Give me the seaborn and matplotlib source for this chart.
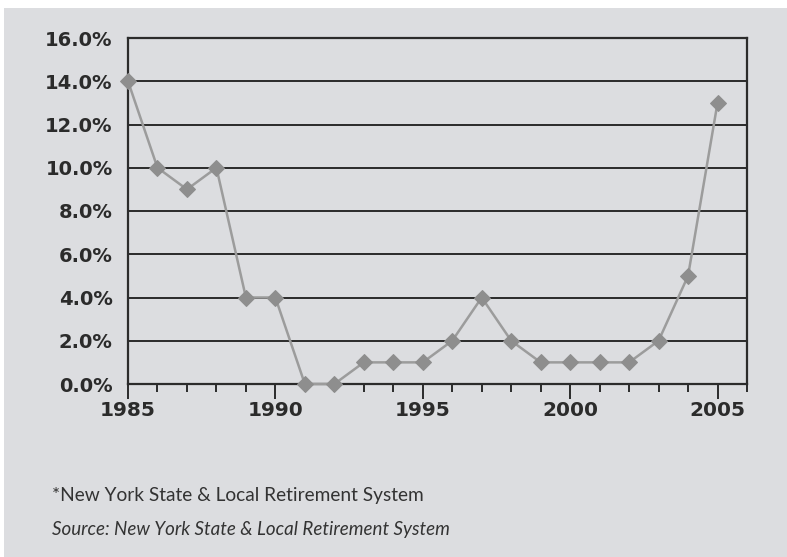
import pandas as pd
import matplotlib.pyplot as plt
import matplotlib.patches as mpatches
from matplotlib.ticker import MultipleLocator, FuncFormatter
import seaborn as sns

# Values
years = list(range(1985, 2006))
rates = [14, 10, 9, 10, 4, 4, 0, 0, 1, 1, 1, 2, 4, 2, 1, 1, 1, 1, 2, 5, 13]
y_ticks = [0, 2, 4, 6, 8, 10, 12, 14, 16]
x_ticks = [1985, 1990, 1995, 2000, 2005]
note = "*New York State & Local Retirement System"
source = "Source: New York State & Local Retirement System"

data = pd.DataFrame({"Year": years, "Rate": rates})

sns.set_style("white")
plt.rcParams["font.family"] = ["Lato", "DejaVu Sans"]

bg = "#dcdde0"
dark = "#2b2b2b"

fig = plt.figure(figsize=(7.87, 5.57), dpi=100, facecolor="white")
# gray panel behind everything (white strip at top and left)
fig.patches.append(mpatches.Rectangle((4 / 787, 0), 1, 1 - 8 / 557,
                                      transform=fig.transFigure,
                                      facecolor=bg, edgecolor="none", zorder=-10))

ax = fig.add_axes([128 / 787, 1 - 384 / 557, (747 - 128) / 787, (384 - 38) / 557])
ax.set_facecolor(bg)

sns.lineplot(x="Year", y="Rate", data=data, ax=ax, color="#9c9c9c",
             linewidth=1.8, marker="D", markersize=8,
             markerfacecolor="#8e8e8e", markeredgecolor="#8e8e8e",
             zorder=5, clip_on=False)

ax.set_xlim(1985, 2006)
ax.set_ylim(0, 16)
ax.set_yticks(y_ticks)
ax.yaxis.set_major_formatter(FuncFormatter(lambda v, p: f"{v:.1f}%"))
ax.set_xticks(x_ticks)
ax.xaxis.set_minor_locator(MultipleLocator(1))

for y in y_ticks[1:-1]:
    ax.axhline(y, color=dark, linewidth=1.4, zorder=1)

for s in ax.spines.values():
    s.set_color(dark)
    s.set_linewidth(1.6)

ax.tick_params(axis="y", which="major", direction="out", length=6, width=1.4,
               color=dark, pad=5, labelcolor=dark)
ax.tick_params(axis="x", which="major", direction="out", length=11, width=1.4,
               color=dark, pad=1, labelcolor=dark, bottom=True)
ax.tick_params(axis="x", which="minor", direction="out", length=6, width=1.4,
               color=dark, bottom=True)
for lab in ax.get_yticklabels():
    lab.set_fontfamily("DejaVu Sans")
    lab.set_fontweight("bold")
    lab.set_fontsize(14)
for lab in ax.get_xticklabels():
    lab.set_fontfamily("DejaVu Sans")
    lab.set_fontweight("bold")
    lab.set_fontsize(14.5)

ax.set_xlabel("")
ax.set_ylabel("")

fig.text(52 / 787, 1 - 495 / 557, note, fontsize=13.8, color="#333333",
         va="center", ha="left")
fig.text(52 / 787, 1 - 530 / 557, source, fontsize=13.5, color="#333333",
         style="italic", va="center", ha="left")

fig.savefig("out.png", dpi=100, facecolor=fig.get_facecolor())
